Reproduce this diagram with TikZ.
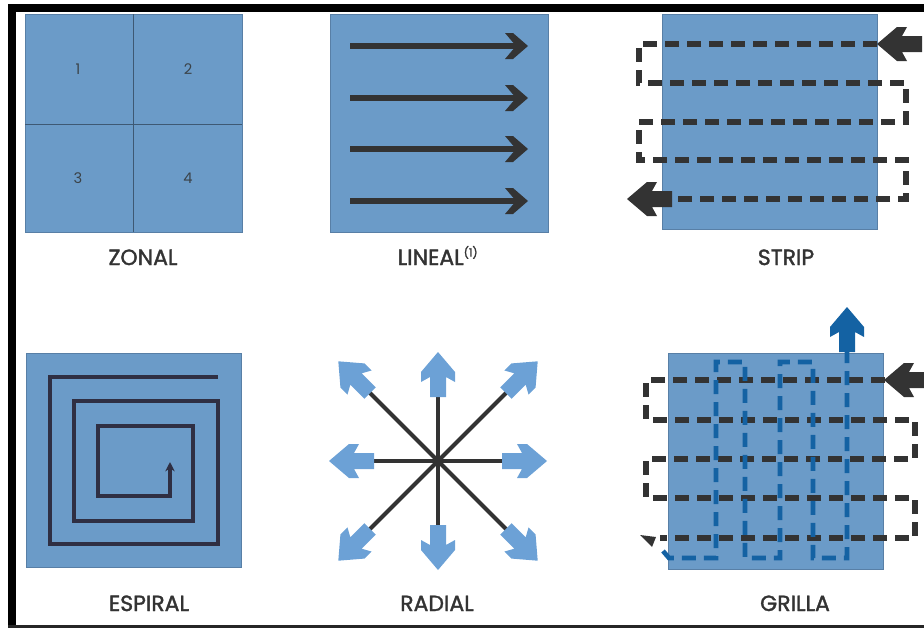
\documentclass[tikz,border=0pt]{standalone}
\usepackage{fontspec}
\setmainfont{Poppins}
\newfontfamily\capfont{Poppins}[FakeBold=1.6]
\usetikzlibrary{arrows.meta, calc}

\definecolor{panelblue}{HTML}{6B9BC8}
\definecolor{paneledge}{HTML}{587FA6}
\definecolor{inkgray}{HTML}{333333}
\definecolor{lightblue}{HTML}{6CA1D6}
\definecolor{deepblue}{HTML}{1462A3}

% barbed arrow: tip, canvas angle, colour
\newcommand{\chevarrow}[3]{%
  \fill[#3, shift={#1}, rotate=#2] (0,0) -- (-20,17) -- (-30,17) -- (-25,8)
    -- (-45,8) -- (-45,-8) -- (-25,-8) -- (-30,-17) -- (-20,-17) -- cycle;}
% thick open head of the lineal arrows
\newcommand{\linhead}[1]{%
  \fill[inkgray, shift={#1}] (0,0) -- (-15,-13) -- (-23,-13) -- (-12,0)
    -- (-23,13) -- (-15,13) -- cycle;}

\begin{document}
\begin{tikzpicture}[
    x = 0.75pt, y = -0.75pt,
    panel/.style = {fill=panelblue, draw=paneledge, line width=0.6pt},
    divider/.style = {draw=paneledge!70!black, line width=0.7pt},
    caption/.style = {anchor=base, text=inkgray, font=\fontsize{16.5}{16.5}\capfont},
    zonenum/.style = {text=inkgray!85!panelblue, font=\fontsize{11}{11}\selectfont},
    dashline/.style = {draw=inkgray, line width=4pt, dash pattern=on 10.5pt off 6pt, line join=miter},
    bluedash/.style = {draw=deepblue, line width=3.5pt, dash pattern=on 10.5pt off 6pt, line join=miter},
    spoke/.style = {draw=inkgray, line width=3pt},
    spiral/.style = {draw=inkgray!92!blue, line width=3pt, line join=miter},
    arrow/.style = {-{Stealth[length=7pt, width=7pt]}}
]
\useasboundingbox (0,0) rectangle (924,628);

% Frame
\fill[black] (8,4) rectangle (924,12);
\fill[black] (8,4) rectangle (16,628);
\fill[black!85] (8,625) rectangle (924,628);

% Zonal
\draw[panel] (25,14) rectangle (242,232);
\draw[divider] (133.5,14) -- (133.5,232);
\draw[divider] (25,124) -- (242,124);
\node[zonenum] (z1) at (78,69) {1};
\node[zonenum] (z2) at (188,69) {2};
\node[zonenum] (z3) at (78,178) {3};
\node[zonenum] (z4) at (188,178) {4};
\node[caption] (zonal) at (143,265) {ZONAL};

% Lineal
\draw[panel] (330,14) rectangle (548,232);
\foreach \y in {46,98,149,201} {
  \draw[inkgray, line width=5.2pt] (350,\y) -- (518,\y);
  \linhead{(528,\y)}
}
\node[caption] (lineal) at (438,265) {LINEAL\textsuperscript{\fontsize{8.5}{8.5}\capfont(1)}};

% Strip
\draw[panel] (662,14) rectangle (877,229);
\draw[dashline] (877,44) -- (639,44) -- (639,83) -- (906,83) -- (906,122)
  -- (639,122) -- (639,160) -- (906,160) -- (906,199) -- (660,199);
\chevarrow{(877,44)}{180}{inkgray}
\chevarrow{(627,199)}{180}{inkgray}
\node[caption] (strip) at (786,265) {STRIP};

% Espiral
\draw[panel] (26,353) rectangle (241,567);
\draw[spiral, arrow] (218,377) -- (50,377) -- (50,544) -- (218,544) -- (218,401)
  -- (74,401) -- (74,521) -- (193,521) -- (193,426) -- (98,426) -- (98,496)
  -- (170,496) -- (170,462);
\node[caption] (espiral) at (149,611) {ESPIRAL};

% Radial
\coordinate (ctr) at (438,461);
\foreach \a in {0,90,180,270} {
  \draw[spoke] (ctr) -- ($(ctr)+(\a:65)$);
  \chevarrow{($(ctr)+(\a:109)$)}{-\a}{lightblue}
}
\foreach \a in {45,135,225,315} {
  \draw[spoke] (ctr) -- ($(ctr)+(\a:97)$);
  \chevarrow{($(ctr)+(\a:141)$)}{-\a}{lightblue}
}
\node[caption] (radial) at (437,611) {RADIAL};

% Grilla
\draw[panel] (668,353) rectangle (883,569);
\draw[dashline] (885,380) -- (646,380) -- (646,420) -- (915,420) -- (915,459)
  -- (646,459) -- (646,498) -- (915,498) -- (915,538) -- (660,538);
\fill[inkgray] (640,535) -- (656,537) -- (652,547) -- cycle;
\draw[bluedash] (663,551) -- (669,558) -- (716,558) -- (716,362) -- (745,362)
  -- (745,558) -- (780,558) -- (780,362) -- (813,362) -- (813,558)
  -- (847,558) -- (847,345);
\chevarrow{(884,380)}{180}{inkgray}
\chevarrow{(847,307)}{90}{deepblue}
\node[caption] (grilla) at (795,611) {GRILLA};

\end{tikzpicture}
\end{document}
